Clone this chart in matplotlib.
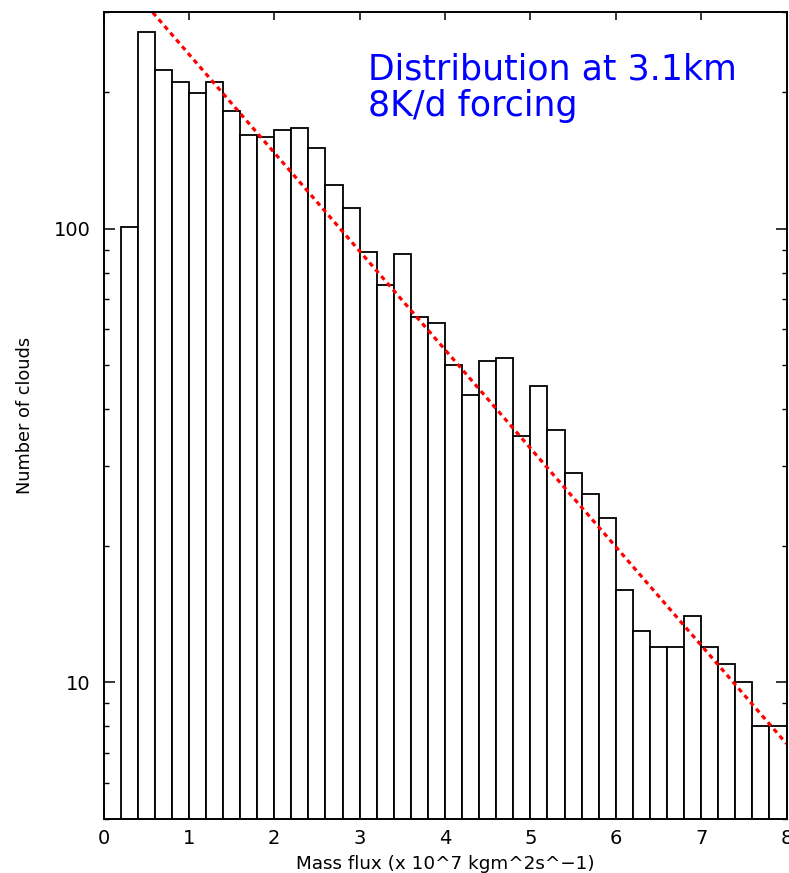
import matplotlib
matplotlib.use("Agg")
import matplotlib.pyplot as plt
import numpy as np
from matplotlib.ticker import LogLocator, FixedLocator, NullFormatter, FixedFormatter

# ---- data ----
bin_left = [0.2, 0.4, 0.6, 0.8, 1.0, 1.2, 1.4, 1.6, 1.8, 2.0,
            2.2, 2.4, 2.6, 2.8, 3.0, 3.2, 3.4, 3.6, 3.8, 4.0,
            4.2, 4.4, 4.6, 4.8, 5.0, 5.2, 5.4, 5.6, 5.8, 6.0,
            6.2, 6.4, 6.6, 6.8, 7.0, 7.2, 7.4, 7.6, 7.8]
bin_width = 0.2
counts = [101, 272, 224, 211, 199, 211, 182, 161, 159, 165,
          167, 151, 125, 111, 89, 75, 88, 64, 62, 50,
          43, 51, 52, 35, 45, 36, 29, 26, 23, 16,
          13, 12, 12, 14, 12, 11, 10, 8, 8]
fit_amplitude = 400.0   # exponential fit N = A * exp(-k * M)
fit_rate = 0.5
x_ticks = [0, 1, 2, 3, 4, 5, 6, 7, 8]
y_major = [10, 100]
y_major_labels = ["10", "100"]

W, H = 789, 873
fig = plt.figure(figsize=(W / 100, H / 100), dpi=100)
ax = fig.add_axes([103.5 / W, 1 - 819 / H, (786.5 - 103.5) / W, (819 - 12.3) / H])

base = 0.001
ax.bar(bin_left, [c - base for c in counts], width=bin_width, align='edge', bottom=base,
       facecolor='white', edgecolor='black', linewidth=1.3, zorder=2)

xf = np.linspace(0, 8, 400)
ax.plot(xf, fit_amplitude * np.exp(-fit_rate * xf), color='#ff0000',
        linewidth=2.3, linestyle=(0, (1.5, 1.3)), zorder=3)

ax.set_yscale('log')
ax.set_xlim(0, 8)
ax.set_ylim(5, 300)

ax.xaxis.set_major_locator(FixedLocator(x_ticks))
ax.set_xticklabels([str(t) for t in x_ticks])
ax.yaxis.set_major_locator(FixedLocator(y_major))
ax.yaxis.set_major_formatter(FixedFormatter(y_major_labels))
ax.yaxis.set_minor_locator(LogLocator(base=10, subs=np.arange(2, 10)))
ax.yaxis.set_minor_formatter(NullFormatter())

ax.tick_params(axis='x', which='major', direction='in', length=5.8, width=1.1,
               top=True, bottom=True, pad=7, labelsize=14)
ax.tick_params(axis='y', which='major', direction='in', length=7.7, width=1.1,
               left=True, right=True, pad=9.5, labelsize=14)
ax.tick_params(axis='y', which='minor', direction='in', length=3.6, width=1.0,
               left=True, right=True)
for lab in ax.get_xticklabels() + ax.get_yticklabels():
    lab.set_family('DejaVu Sans')

for sp in ax.spines.values():
    sp.set_linewidth(1.4)
    sp.set_zorder(4)

ax.set_xlabel("Mass flux (x 10^7 kgm^2s^\u22121)", fontsize=13.2,
              family='DejaVu Sans', labelpad=5)
ax.set_ylabel("Number of clouds", fontsize=12.8, family='DejaVu Sans')
ax.yaxis.set_label_coords((34 - 103.5) / 683, 0.5)

fig.text(368 / W, 1 - 80 / H, "Distribution at 3.1km", color='#0000ff',
         fontsize=25, family='DejaVu Sans', ha='left', va='baseline')
fig.text(368 / W, 1 - 116 / H, "8K/d forcing", color='#0000ff',
         fontsize=25, family='DejaVu Sans', ha='left', va='baseline')

fig.savefig("out.png", dpi=100)
